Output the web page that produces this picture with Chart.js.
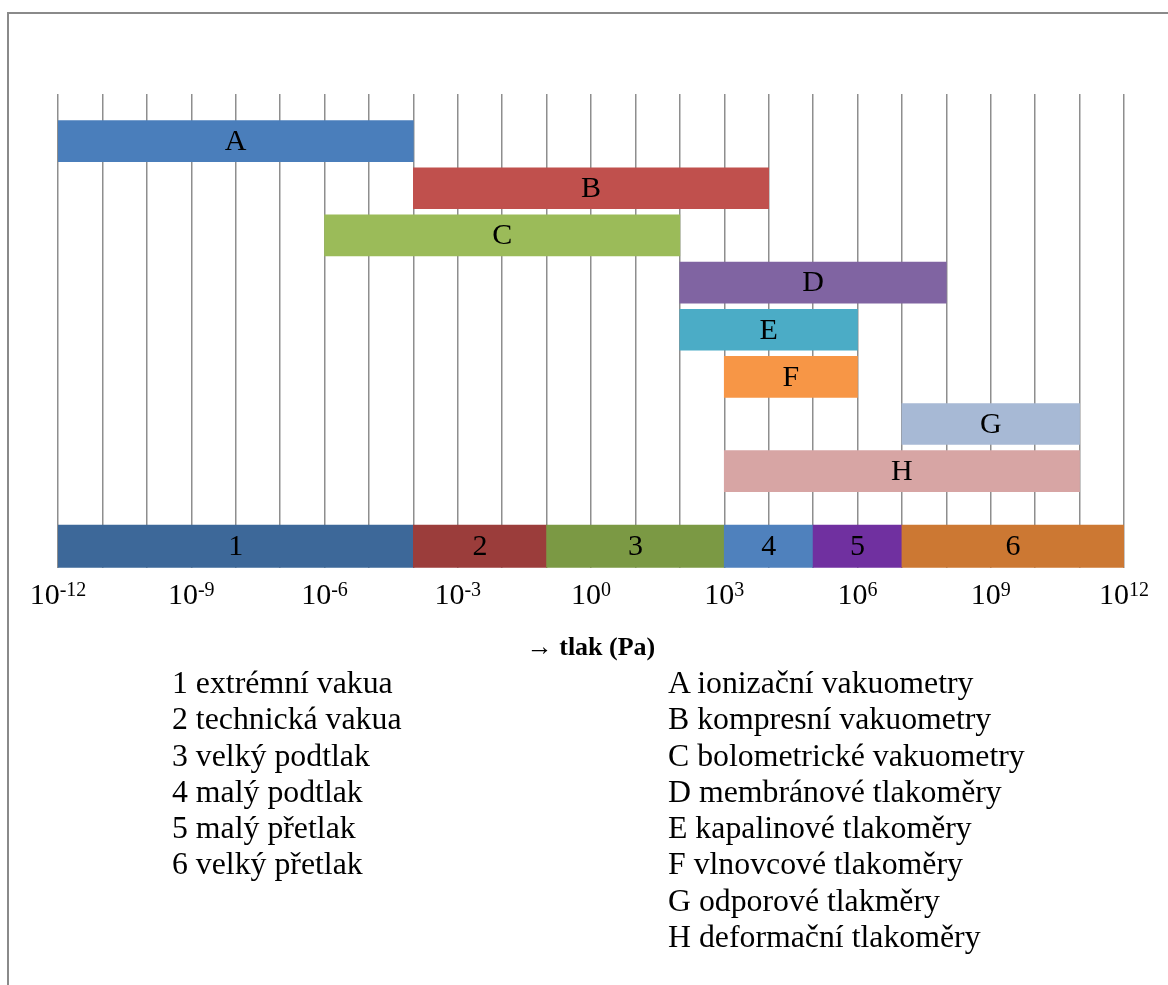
<!DOCTYPE html>
<html lang="cs">
<head>
<meta charset="utf-8">
<title>Rozsahy tlakoměrů</title>
<script src="https://cdn.jsdelivr.net/npm/chart.js@4/dist/chart.umd.min.js"></script>
<style>
    html, body { margin: 0; padding: 0; background: #fff; overflow: hidden; }
    body { width: 1168px; height: 985px; position: relative; font-family: 'Liberation Serif', 'Times New Roman', serif; }
    .frame { position: absolute; left: 7px; top: 12px; width: 1300px; height: 1100px; border-top: 2px solid #8a8a8a; border-left: 2px solid #8a8a8a; }
    .chart-box { position: absolute; left: 0; top: 0; width: 1168px; height: 680px; }
    .legend { position: absolute; top: 665px; font-size: 31.8px; line-height: 36.3px; color: #000; white-space: nowrap; }
    #legendRanges { left: 172px; }
    #legendInstruments { left: 668px; }
</style>
</head>
<body>
<div class="frame"></div>
<div class="chart-box"><canvas id="pressureChart"></canvas></div>
<div class="legend" id="legendRanges"></div>
<div class="legend" id="legendInstruments"></div>
<script>
// x values are log10 of pressure in Pa
const instrumentCodes = ['A', 'B', 'C', 'D', 'E', 'F', 'G', 'H'];
const instrumentNames = [
    'ionizační vakuometry',
    'kompresní vakuometry',
    'bolometrické vakuometry',
    'membránové tlakoměry',
    'kapalinové tlakoměry',
    'vlnovcové tlakoměry',
    'odporové tlakměry',
    'deformační tlakoměry'
];
const instrumentFrom = [-12, -4, -6, 2, 2, 3, 7, 3];
const instrumentTo = [-4, 4, 2, 8, 6, 6, 11, 11];
const instrumentRow = [1, 2, 3, 4, 5, 6, 7, 8];

const rangeCodes = ['1', '2', '3', '4', '5', '6'];
const rangeNames = [
    'extrémní vakua',
    'technická vakua',
    'velký podtlak',
    'malý podtlak',
    'malý přetlak',
    'velký přetlak'
];
const rangeFrom = [-12, -4, -1, 3, 5, 7];
const rangeTo = [-4, -1, 3, 5, 7, 12];
const rangeRow = 9.6;

const tickBase = '10';
const tickExponents = ['-12', '-9', '-6', '-3', '0', '3', '6', '9', '12'];

const instrumentColors = ['#4a7ebb', '#c0504d', '#9bbb59', '#8064a2', '#4bacc6', '#f79646', '#a7b9d5', '#d7a5a4'];
const rangeColors = ['#3d6899', '#9b3d3b', '#7b9944', '#4f81bd', '#7030a0', '#cc7833'];

const serif = "'Liberation Serif', 'Times New Roman', serif";

(() => {
    const fillLegend = (id, codes, names) => {
        document.getElementById(id).innerHTML = codes.map((c, i) => `<div>${c} ${names[i]}</div>`).join('');
    };
    fillLegend('legendRanges', rangeCodes, rangeNames);
    fillLegend('legendInstruments', instrumentCodes, instrumentNames);

    // letters / digits in the middle of each bar
    const barLabels = {
        id: 'barLabels',
        afterDatasetsDraw(chart) {
            const ctx = chart.ctx;
            ctx.save();
            ctx.font = `30px ${serif}`;
            ctx.fillStyle = '#000';
            ctx.textAlign = 'center';
            ctx.textBaseline = 'middle';
            chart.data.datasets.forEach((ds, i) => {
                chart.getDatasetMeta(i).data.forEach((bar, j) => {
                    const p = bar.getProps(['x', 'y', 'base'], true);
                    ctx.fillText(ds.codes[j], (p.x + p.base) / 2, p.y + 1);
                });
            });
            ctx.restore();
        }
    };

    // 10^n tick labels with a raised exponent
    const powerTicks = {
        id: 'powerTicks',
        afterDraw(chart) {
            const ctx = chart.ctx;
            const xs = chart.scales.x;
            const baseY = chart.chartArea.bottom + 36;
            ctx.save();
            ctx.fillStyle = '#000';
            ctx.textAlign = 'left';
            ctx.textBaseline = 'alphabetic';
            tickExponents.forEach((exp) => {
                const x = xs.getPixelForValue(Number(exp));
                ctx.font = `30px ${serif}`;
                const wb = ctx.measureText(tickBase).width;
                ctx.font = `20px ${serif}`;
                const we = ctx.measureText(exp).width;
                const left = x - (wb + we) / 2;
                ctx.font = `30px ${serif}`;
                ctx.fillText(tickBase, left, baseY);
                ctx.font = `20px ${serif}`;
                ctx.fillText(exp, left + wb, baseY - 8);
            });
            ctx.restore();
        }
    };

    new Chart(document.getElementById('pressureChart'), {
        type: 'bar',
        data: {
            datasets: [
                {
                    label: 'tlakoměry',
                    codes: instrumentCodes,
                    data: instrumentCodes.map((c, i) => ({ x: [instrumentFrom[i], instrumentTo[i]], y: instrumentRow[i] })),
                    backgroundColor: instrumentColors,
                    barThickness: 41,
                    grouped: false
                },
                {
                    label: 'oblasti tlaku',
                    codes: rangeCodes,
                    data: rangeCodes.map((c, i) => ({ x: [rangeFrom[i], rangeTo[i]], y: rangeRow })),
                    backgroundColor: rangeColors,
                    barThickness: 43,
                    grouped: false
                }
            ]
        },
        options: {
            indexAxis: 'y',
            responsive: true,
            maintainAspectRatio: false,
            animation: false,
            layout: { padding: { left: 58, right: 44, top: 94, bottom: 16 } },
            plugins: {
                legend: { display: false },
                tooltip: { enabled: false }
            },
            scales: {
                x: {
                    type: 'linear',
                    min: -12,
                    max: 12,
                    ticks: { stepSize: 1, display: false },
                    grid: { color: '#8e8e8e', lineWidth: 1.5, drawTicks: false },
                    border: { display: false },
                    title: {
                        display: true,
                        text: '→ tlak (Pa)',
                        color: '#000',
                        font: { family: serif, size: 26, weight: 'bold' },
                        padding: { top: 65, bottom: 0 }
                    }
                },
                y: {
                    type: 'linear',
                    reverse: true,
                    offset: false,
                    min: 0,
                    max: 10.05,
                    display: false
                }
            }
        },
        plugins: [barLabels, powerTicks]
    });
})();
</script>
</body>
</html>
